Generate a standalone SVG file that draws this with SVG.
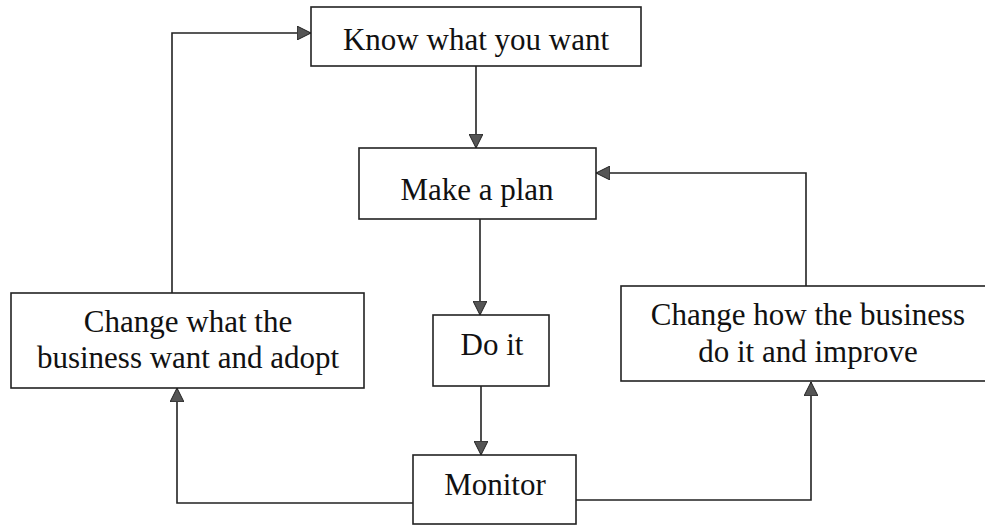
<svg xmlns="http://www.w3.org/2000/svg" width="985" height="526" viewBox="0 0 985 526">
<defs>
<marker id="arr" markerUnits="userSpaceOnUse" markerWidth="16" markerHeight="14" refX="14" refY="7" orient="auto">
<path d="M0,0 L14,7 L0,14 Z" fill="#555" stroke="#222" stroke-width="1"/>
</marker>
<style>
.box{fill:#fff;stroke:#222;stroke-width:1.6}
.lbl{font-family:"Liberation Serif","Times New Roman",serif;font-size:31px;fill:#111;text-anchor:middle}
.con{fill:none;stroke:#222;stroke-width:1.6;marker-end:url(#arr)}
</style>
</defs>
<rect width="985" height="526" fill="#fff"/>
<g id="connectors">
<path class="con" d="M476,66 V148"/>
<path class="con" d="M480,219 V315"/>
<path class="con" d="M481,386 V455"/>
<path class="con" d="M413,503 H177 V388"/>
<path class="con" d="M576,500 H811 V382"/>
<path class="con" d="M806,286 V173 H596"/>
<path class="con" d="M172,293 V33 H311"/>
</g>
<g id="know">
<rect class="box" x="311" y="7" width="330" height="59"/>
<text class="lbl" x="476" y="50">Know what you want</text>
</g>
<g id="plan">
<rect class="box" x="359" y="148" width="237" height="71"/>
<text class="lbl" x="477" y="200">Make a plan</text>
</g>
<g id="doit">
<rect class="box" x="433" y="315" width="116" height="71"/>
<text class="lbl" x="492" y="355">Do it</text>
</g>
<g id="monitor">
<rect class="box" x="413" y="455" width="163" height="69"/>
<text class="lbl" x="495" y="495">Monitor</text>
</g>
<g id="changewhat">
<rect class="box" x="11" y="293" width="353" height="95"/>
<text class="lbl" x="188" y="332">Change what the</text>
<text class="lbl" x="188" y="368">business want and adopt</text>
</g>
<g id="changehow">
<rect class="box" x="621" y="286" width="380" height="95"/>
<text class="lbl" x="808" y="325">Change how the business</text>
<text class="lbl" x="808" y="362">do it and improve</text>
</g>
</svg>
